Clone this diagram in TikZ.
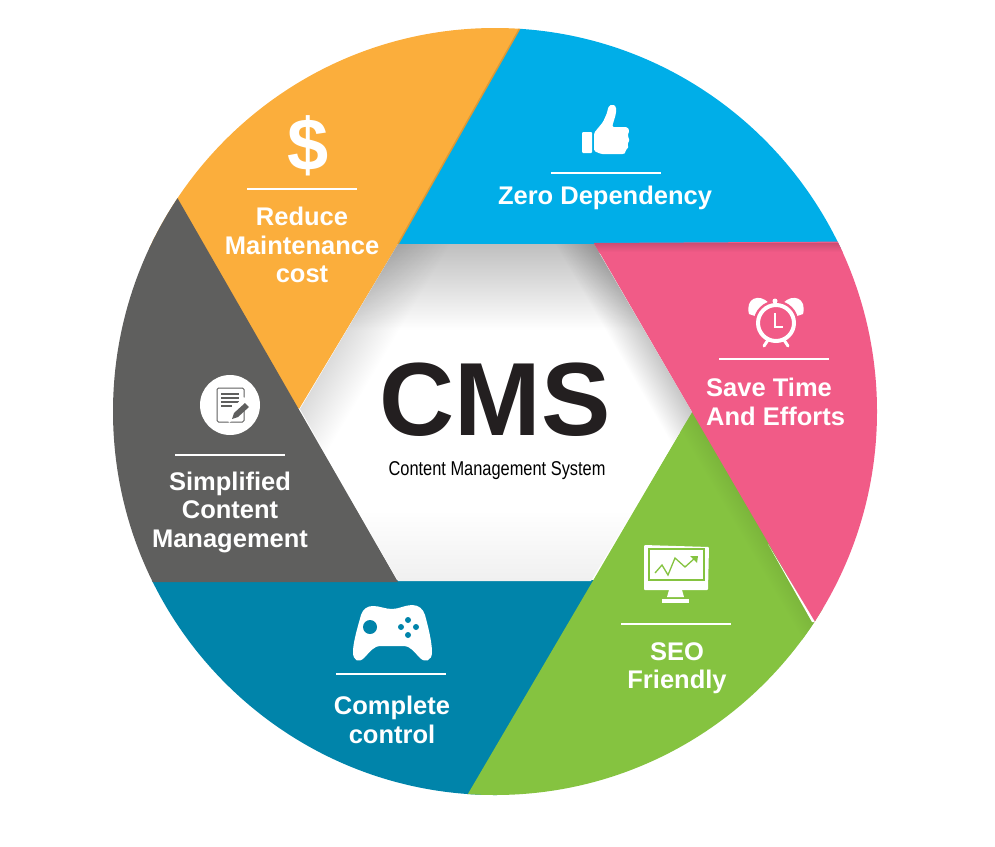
\documentclass[tikz,border=0pt]{standalone}
\usepackage{fontspec}
\usetikzlibrary{positioning}
\setmainfont{Liberation Sans}
\definecolor{cmsorange}{HTML}{FBAE3C}
\definecolor{cmsblue}{HTML}{00AEE8}
\definecolor{cmspink}{HTML}{F15B87}
\definecolor{cmsgreen}{HTML}{85C340}
\definecolor{cmsteal}{HTML}{0084AA}
\definecolor{cmsgrey}{HTML}{5F5F5E}
\definecolor{cmsink}{HTML}{231F20}
\begin{document}
\begin{tikzpicture}[
    x=1pt, y=-1pt,
    % --- Styles ---
    label node/.style={font=\bfseries\fontsize{25.5}{28.5}\selectfont, text=white, align=center, inner sep=0pt},
    rule line/.style={draw=white, line width=1.1pt},
    icon fill/.style={fill=white, draw=none},
    edge shadow/.style={draw=none, blend mode=multiply}
]

%================CONFIGURATION================
% Wheel centre and radii, in pixels of the reference
\def\cx{495}
\def\cy{411.5}
\def\radx{382}
\def\rady{383.5}
%=============================================

\useasboundingbox (0,0) rectangle (995,846);

% --- 1. Sectors, cut to the wheel ---
\begin{scope}
    \clip (\cx,\cy) ellipse [x radius=\radx, y radius=\rady];
    \fill[cmsorange] (398,244) -- (550,-25) -- (100,-25) -- (150,250) -- (299,409) -- cycle;
    \fill[cmsblue] (398,248) -- (398,244) -- (550,-25) -- (950,-25) -- (950,248) -- cycle;
    \fill[cmsteal] (610,580) -- (470,850) -- (100,850) -- (100,580) -- cycle;
    \fill[cmsgreen] (692,412) -- (950,800) -- (900,850) -- (435,850) -- cycle;
    % darker strip beside the pink sector
    \begin{scope}[transform canvas={shift={(692,412)}, rotate=-59.7}]
        \shade[top color=cmsgreen!92!black, bottom color=cmsgreen] (0,-2) rectangle (260,20);
    \end{scope}
    \fill[cmspink] (594,243) -- (950,241) -- (950,800) -- (900,769) -- (692,412) -- cycle;
    \fill[cmsgrey] (398,582) -- (60,582) -- (60,98) -- (120,98) -- cycle;
    % darker strip under the blue sector
    \shade[top color=cmspink!85!black, bottom color=cmspink] (594,243) rectangle (900,252);
    % darker rim of the orange sector
    \draw[cmsorange!88!black, line width=1.5pt] (520,28) -- (398,244);
    % sliver between the pink and green sectors
    \fill[white] (768,544) -- (815,622) -- (812,622) -- cycle;
\end{scope}

% --- 2. Hub with soft inner shadows ---
\begin{scope}
    \clip (398,244) -- (594,244) -- (692,412) -- (591,581) -- (398,581) -- (300,409) -- cycle;
    \fill[white] (280,230) rectangle (710,600);
    \shade[edge shadow, top color=black!25, bottom color=white] (290,244) rectangle (700,330);
    \begin{scope}[transform canvas={shift={(398,244)}, rotate=239.3}]
        \shade[edge shadow, top color=white, bottom color=black!14] (-90,0) rectangle (260,-45);
    \end{scope}
    \begin{scope}[transform canvas={shift={(594,244)}, rotate=-59.7}]
        \shade[edge shadow, top color=black!22, bottom color=white] (-90,0) rectangle (260,34);
    \end{scope}
    \shade[edge shadow, top color=white, bottom color=black!6] (290,510) rectangle (700,581);
\end{scope}

% --- 3. Centre title ---
\node[font=\bfseries\fontsize{104}{104}\selectfont, text=cmsink, inner sep=0pt] (title) at (495,400) {CMS};
\node[font=\fontsize{20}{24}\selectfont, text=black, inner sep=0pt, xscale=0.82, below=24pt of title, xshift=2.5pt] (subtitle) {Content Management System};

% --- 4. Sector labels ---
\node[label node] (reduce) at (302,245) {Reduce\\Maintenance\\cost};
\node[label node] (zero) at (605,198) {Zero Dependency};
\node[label node, align=left, anchor=west] (save) at (706,402) {Save Time\\And Efforts};
\node[label node] (seo) at (677,668) {SEO\\Friendly};
\node[label node] (complete) at (392,720) {Complete\\control};
\node[label node] (simplified) at (230,512) {Simplified\\Content\\Management};

% Rule above each label
\foreach \xa/\ya in {247/189, 551/173, 719/359, 621/624, 336/674, 175/455} {
    \draw[rule line] (\xa,\ya) -- ++(110,0);
}

% --- 5. Icons ---
% Dollar
\node[font=\bfseries\fontsize{74}{74}\selectfont, text=white, inner sep=0pt] (dollar) at (308,146) {\$};

% Thumb
\fill[icon fill, rounded corners=1pt] (582,132) rectangle (592,153);
\fill[icon fill, rounded corners=1.5pt] (594,133) -- (603,122) -- (607,113) .. controls (608,108) and (609,105) .. (612,105)
    .. controls (616,105) and (617,110) .. (615,117) -- (612,127) -- (625,127) .. controls (630,128) and (629,133) .. (627,135)
    .. controls (630,138) and (629,142) .. (627,143) .. controls (629,146) and (628,149) .. (625,150)
    .. controls (626,153) and (624,154) .. (621,154) -- (601,154) -- (594,151) -- cycle;

% Alarm clock
\fill[icon fill] (749,314) .. controls (745,298) and (759,293) .. (769,303) -- (776,323) -- cycle;
\fill[icon fill] (803,314) .. controls (807,298) and (793,293) .. (783,303) -- (776,323) -- cycle;
\fill[cmspink] (776,323) circle (22.5);
\fill[icon fill] (775,301) circle (2.5);
\draw[white, line width=3pt, line cap=round] (768,340) -- (764,346) (784,340) -- (788,346);
\draw[white, line width=4pt] (776,323) circle (18);
\draw[white, line width=2.5pt] (775,313) -- (775,327) -- (783,327);

% Monitor
\fill[icon fill, rounded corners=1pt] (644,545) -- (709,547) -- (708,590) -- (644,590) -- cycle;
\draw[cmsgreen, line width=1.6pt] (649,549) rectangle (704,580);
\draw[cmsgreen, line width=1.3pt] (655,573) -- (662,565) -- (668,575) -- (675,558) -- (685,567) -- (695,558);
\fill[cmsgreen] (698,556) -- (690,556) -- (697,563) -- cycle;
\fill[icon fill] (669,590) -- (682,590) -- (684,597) -- (667,597) -- cycle;
\fill[icon fill] (662,599) rectangle (689,603);

% Game pad
\fill[icon fill] (373,606) .. controls (380,606) and (385,609) .. (392,609) .. controls (399,609) and (405,605) .. (412,605)
    .. controls (419,605) and (423,609) .. (425,615) .. controls (428,626) and (432,642) .. (432,652)
    .. controls (432,661) and (425,663) .. (420,658) .. controls (414,652) and (411,646) .. (403,646)
    -- (381,646) .. controls (373,646) and (370,652) .. (364,658)
    .. controls (359,663) and (353,661) .. (353,652) .. controls (353,642) and (358,626) .. (361,615)
    .. controls (363,609) and (367,606) .. (373,606) -- cycle;
\fill[cmsteal] (370,627) circle (7);
\foreach \xa/\ya in {408/620, 401/627, 416/627, 408/635} {
    \fill[cmsteal] (\xa,\ya) circle (3);
}

% Document
\node[circle, fill=white, minimum size=60pt, inner sep=0pt] (doc) at (230,405) {};
\draw[cmsgrey, line width=1pt, rounded corners=1.5pt] (217,388) rectangle (244,422);
\draw[cmsgrey, line width=1.2pt] (221,394) -- (239,394) (221,398) -- (239,398) (221,402) -- (239,402) (221,406) -- (232,406);
\fill[white] (229,423) -- (251,404) -- (244,397) -- (226,414) -- cycle;
\fill[cmsgrey] (232,419) -- (234,413) -- (245,403) -- (249,407) -- (238,417) -- cycle;

\end{tikzpicture}
\end{document}
